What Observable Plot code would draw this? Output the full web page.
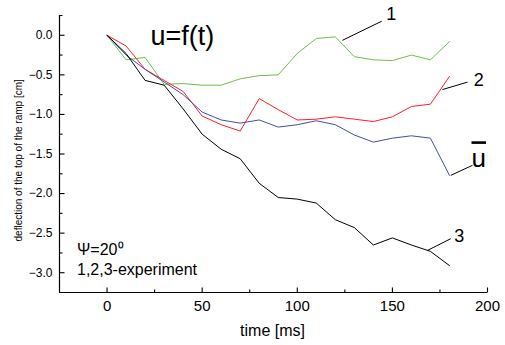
<!DOCTYPE html>
<html><head><meta charset="utf-8">
<script src="https://cdn.jsdelivr.net/npm/d3@7"></script>
<script src="https://cdn.jsdelivr.net/npm/@observablehq/plot@0.6"></script>
<style>body{margin:0;background:#fff} svg{display:block}</style>
</head><body><div id="chart"></div>
<script>
const time = [0,10,20,30,40,50,60,70,80,90,100,110,120,130,140,150,160,170,180];
const exp1 = [0,-0.31,-0.28,-0.62,-0.61,-0.63,-0.63,-0.55,-0.51,-0.50,-0.23,-0.04,-0.02,-0.27,-0.31,-0.32,-0.25,-0.31,-0.08];
const exp2 = [0,-0.135,-0.43,-0.57,-0.71,-1.02,-1.13,-1.21,-0.80,-0.94,-1.07,-1.06,-1.03,-1.06,-1.09,-1.03,-0.90,-0.87,-0.52];
const meanU = [0,-0.25,-0.43,-0.59,-0.75,-0.97,-1.07,-1.11,-1.07,-1.16,-1.13,-1.08,-1.13,-1.26,-1.35,-1.30,-1.27,-1.30,-1.77];
const exp3 = [0,-0.23,-0.57,-0.63,-0.93,-1.25,-1.44,-1.56,-1.87,-2.05,-2.07,-2.12,-2.33,-2.43,-2.65,-2.56,-2.65,-2.73,-2.91];
const seriesNames = ["1","2","u","3"];
const xMajor = [0,50,100,150,200];
const xMinor = [25,75,125,175];
const yMajor = [0,-0.5,-1.0,-1.5,-2.0,-2.5,-3.0];
const yMinor = [0.25,-0.25,-0.75,-1.25,-1.75,-2.25,-2.75];
const xLabel = "time [ms]";
const yLabel = "deflection of the top of the ramp [cm]";
// leader lines (data units)
const leaderX1 = [123.7,176.3,180.7,168.4];
const leaderY1 = [-0.064,-0.686,-1.770,-2.719];
const leaderX2 = [144.4,189.5,192.1,180.7];
const leaderY2 = [0.178,-0.592,-1.643,-2.570];
const numLabels = ["1","2","3"];
const numLabelX = [149.4,195.4,185.1];
const numLabelY = [0.266,-0.565,-2.533];

const W = 505, H = 345, mL = 59, mR = 18, mT = 15, mB = 53;
const X0 = -25, X1 = 200, Y0 = -3.25, Y1 = 0.25;
const pxX = (W - mL - mR) / (X1 - X0), pxY = (H - mT - mB) / (Y1 - Y0);

const rows = [];
[exp1,exp2,meanU,exp3].forEach((vals,k)=>vals.forEach((v,i)=>rows.push({t:time[i],v,s:seriesNames[k]})));
const leaders = leaderX1.map((x,i)=>({x1:x,y1:leaderY1[i],x2:leaderX2[i],y2:leaderY2[i]}));
const nums = numLabels.map((s,i)=>({s,x:numLabelX[i],y:numLabelY[i]}));
const ticks = [
  ...xMajor.map(v=>({x1:v,x2:v,y1:Y0,y2:Y0+5/pxY})),
  ...xMinor.map(v=>({x1:v,x2:v,y1:Y0,y2:Y0+3/pxY})),
  ...yMajor.map(v=>({x1:X0,x2:X0+5/pxX,y1:v,y2:v})),
  ...yMinor.map(v=>({x1:X0,x2:X0+3/pxX,y1:v,y2:v}))
];

const chart = Plot.plot({
  width: W, height: H,
  marginLeft: mL, marginRight: mR, marginTop: mT, marginBottom: mB,
  style: {fontFamily: "'Liberation Sans', Arial, sans-serif", background: "#fff", color: "#000"},
  x: {domain: [X0,X1]},
  y: {domain: [Y0,Y1]},
  color: {domain: seriesNames, range: ["#6cc04a","#ff2020","#3f50a8","#000000"]},
  marks: [
    Plot.line(rows, {x:"t", y:"v", z:"s", stroke:"s", strokeWidth:1}),
    Plot.link(leaders, {x1:"x1", y1:"y1", x2:"x2", y2:"y2", stroke:"#000", strokeWidth:1}),
    Plot.ruleX([X0], {stroke:"#000", strokeWidth:1.2}),
    Plot.ruleY([Y0], {stroke:"#000", strokeWidth:1.2}),
    Plot.link(ticks, {x1:"x1", y1:"y1", x2:"x2", y2:"y2", stroke:"#000", strokeWidth:1.1}),
    Plot.axisX({ticks: xMajor, tickSize: 0, tickPadding: 8, fontSize: 15, tickFormat: d3.format("d"), label: null}),
    Plot.axisY({ticks: yMajor, tickSize: 0, tickPadding: 7, fontSize: 12, tickFormat: d3.format(".1f"), label: null}),
    Plot.text(nums, {x:"x", y:"y", text:"s", fontSize:18, textAnchor:"middle", lineAnchor:"middle"}),
    Plot.text(["u=f(t)"], {x:22.8, y:-0.127, fontSize:27, textAnchor:"start", lineAnchor:"bottom"}),
    Plot.text(["u"], {x:195.4, y:-1.668, fontSize:26, textAnchor:"middle", lineAnchor:"bottom", className:"ubar"}),
    Plot.text(["Ψ=20⁰"], {x:-15.8, y:-2.774, fontSize:16, textAnchor:"start", lineAnchor:"bottom"}),
    Plot.text(["1,2,3-experiment"], {x:-15.8, y:-3.028, fontSize:16, textAnchor:"start", lineAnchor:"bottom"}),
    Plot.text([xLabel], {x:87, y:-3.803, fontSize:16, textAnchor:"middle", lineAnchor:"bottom"}),
    Plot.text([yLabel], {x:-46.2, y:-1.58, fontSize:10, rotate:-90, textAnchor:"middle", lineAnchor:"middle"})
  ]
});
d3.select(chart).selectAll(".ubar text").style("text-decoration","overline");
document.getElementById("chart").appendChild(chart);
</script>
</body></html>
